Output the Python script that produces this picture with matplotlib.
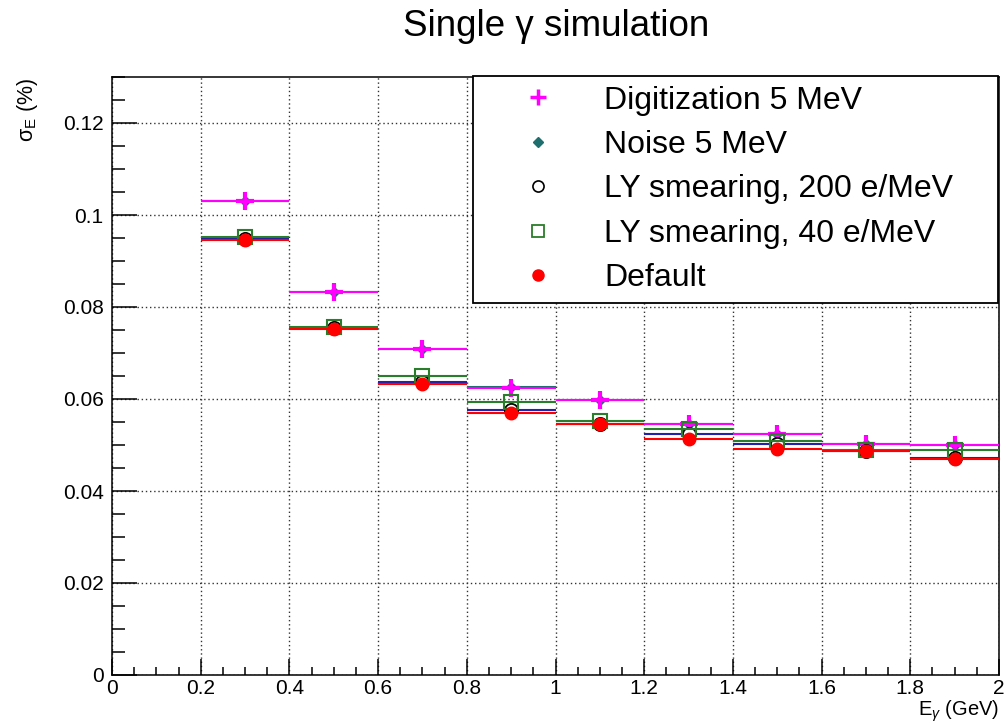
import matplotlib
matplotlib.use("Agg")
import matplotlib.pyplot as plt
from matplotlib.lines import Line2D
from matplotlib.ticker import MultipleLocator

plt.rcParams["font.family"] = ["Liberation Sans", "DejaVu Sans"]
plt.rcParams["mathtext.fontset"] = "custom"
plt.rcParams["mathtext.rm"] = "Liberation Sans"
plt.rcParams["mathtext.it"] = "Liberation Sans:italic"

# ─── Data ──────────────────────────────────────────────────────────────────────
energy = [0.3, 0.5, 0.7, 0.9, 1.1, 1.3, 1.5, 1.7, 1.9]
bin_half = 0.1
digitization = [0.1030, 0.0832, 0.0708, 0.0625, 0.0598, 0.0545, 0.0525, 0.0503, 0.0501]
noise = [0.1031, 0.0832, 0.0708, 0.0626, 0.0598, 0.0545, 0.0524, 0.0503, 0.0500]
ly_200 = [0.0948, 0.0754, 0.0636, 0.0577, 0.0546, 0.0523, 0.0502, 0.0488, 0.0472]
ly_40 = [0.0952, 0.0756, 0.0649, 0.0594, 0.0553, 0.0535, 0.0509, 0.0489, 0.0490]
default = [0.0946, 0.0753, 0.0633, 0.0570, 0.0546, 0.0512, 0.0491, 0.0487, 0.0469]

labels = ["Digitization 5 MeV", "Noise 5 MeV", "LY smearing, 200 e/MeV",
          "LY smearing, 40 e/MeV", "Default"]

fig = plt.figure(figsize=(10.07, 7.28), dpi=100)
ax = fig.add_axes([112 / 1007, 1 - 675 / 728, 887 / 1007, 598 / 728])

xerr = [bin_half] * len(energy)

# noise first so its line sits under the magenta one
ax.errorbar(energy, noise, xerr=xerr, fmt="D", color="#1f6e6e", ms=5,
            elinewidth=1.5, capsize=0, zorder=2)
ax.errorbar(energy, digitization, xerr=xerr, fmt="+", color="#ff00ff", ms=13,
            mew=3, elinewidth=1.5, capsize=0, zorder=3)
ax.errorbar(energy, ly_200, xerr=xerr, fmt="o", mfc="white", mec="black",
            ecolor="#2222aa", ms=9.5, mew=1.3, elinewidth=1.5, capsize=0, zorder=4)
ax.errorbar(energy, ly_40, xerr=xerr, fmt="s", mfc="none", mec="#2a7d2a",
            ecolor="#2a7d2a", ms=10.5, mew=1.5, elinewidth=1.5, capsize=0, zorder=5)
ax.errorbar(energy, default, xerr=xerr, fmt="o", color="#ff0000", ms=9,
            elinewidth=1.5, capsize=0, zorder=6)

ax.set_xlim(0, 2)
ax.set_ylim(0, 0.13)
ax.xaxis.set_major_locator(MultipleLocator(0.2))
ax.xaxis.set_minor_locator(MultipleLocator(0.05))
ax.yaxis.set_major_locator(MultipleLocator(0.02))
ax.yaxis.set_minor_locator(MultipleLocator(0.005))
ax.xaxis.set_major_formatter(lambda v, p: f"{v:g}")
ax.yaxis.set_major_formatter(lambda v, p: f"{v:g}")

ax.tick_params(axis="both", which="both", direction="in", top=False, right=False,
               labelsize=15, width=1.1)
ax.tick_params(axis="y", which="major", length=18, pad=6)
ax.tick_params(axis="y", which="minor", length=9.5)
ax.tick_params(axis="x", which="major", length=11.5, pad=3)
ax.tick_params(axis="x", which="minor", length=6)
for s in ax.spines.values():
    s.set_linewidth(1.1)

ax.grid(True, which="major", color="#333333", linestyle=(0, (1, 2)), linewidth=1)
ax.set_axisbelow(True)

# ─── Legend ────────────────────────────────────────────────────────────────────
handles = [
    Line2D([], [], ls="none", marker="+", color="#ff00ff", ms=11, mew=2.5),
    Line2D([], [], ls="none", marker="D", color="#1f6e6e", ms=5),
    Line2D([], [], ls="none", marker="o", mfc="white", mec="black", ms=8, mew=1.2),
    Line2D([], [], ls="none", marker="s", mfc="none", mec="#2a7d2a", ms=8, mew=1.3),
    Line2D([], [], ls="none", marker="o", color="#ff0000", ms=8),
]
leg_x0, leg_x1 = 473 / 1007, 998 / 1007
leg_top, leg_bot = 1 - 76 / 728, 1 - 302 / 728
leg = ax.legend(handles, labels, loc="upper left", mode="expand",
                bbox_to_anchor=(leg_x0, leg_bot, leg_x1 - leg_x0, leg_top - leg_bot),
                bbox_transform=fig.transFigure, borderaxespad=0,
                fancybox=False, edgecolor="black", framealpha=1,
                fontsize=23, handlelength=3.5, handletextpad=0.3,
                labelspacing=0.45, borderpad=0.3)
leg.get_frame().set_linewidth(1.3)

# ─── Texts ─────────────────────────────────────────────────────────────────────
fig.text(556 / 1007, 1 - 27 / 728, "Single γ simulation", ha="center", va="center",
         fontsize=26.5)
fig.text(27 / 1007, 1 - 78 / 728, r"σ$_{\rm E}$ (%)", rotation=90, ha="center",
         va="top", fontsize=15.5)
fig.text(999 / 1007, 1 - 698 / 728, r"E$_{\gamma}$ (GeV)", ha="right", va="top",
         fontsize=14.5)

fig.savefig("out.png", dpi=100)
